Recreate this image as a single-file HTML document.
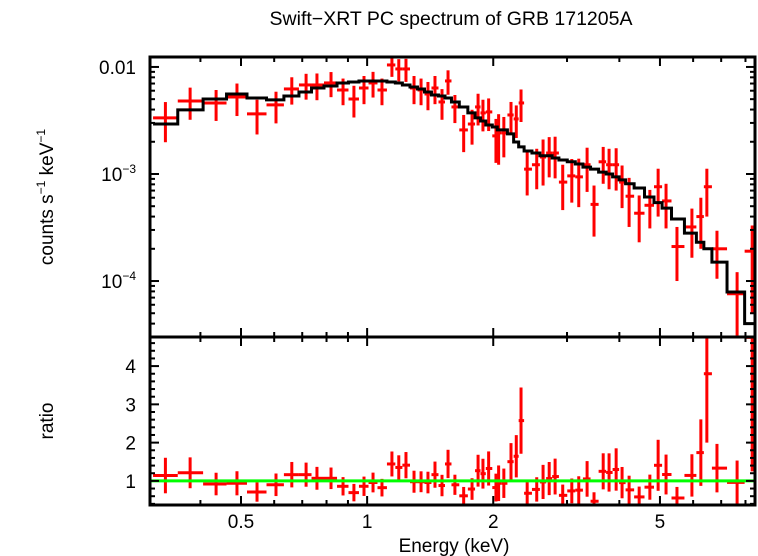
<!DOCTYPE html>
<html><head><meta charset="utf-8"><style>
html,body{margin:0;padding:0;background:#fff;}
svg{display:block;font-family:"Liberation Sans",sans-serif;}
</style></head><body>
<svg id="chart" width="758" height="556" viewBox="0 0 758 556">
<text x="451" y="25" font-size="19.5" text-anchor="middle">Swift−XRT PC spectrum of GRB 171205A</text>
<text transform="translate(53,197) rotate(-90)" font-size="19" text-anchor="middle">counts s<tspan font-size="12" dy="-8">−1</tspan><tspan dy="8"> keV</tspan><tspan font-size="12" dy="-8">−1</tspan></text>
<text transform="translate(53,421) rotate(-90)" font-size="19" text-anchor="middle">ratio</text>
<text x="454" y="552" font-size="19" text-anchor="middle">Energy (keV)</text>
<g id="layer"></g>
</svg>
<script>
// ---- data ----
const energies=[0.33,0.378,0.436,0.489,0.546,0.606,0.661,0.715,0.759,0.82,0.876,0.93,0.983,1.033,1.085,1.146,1.19,1.238,1.294,1.345,1.397,1.452,1.509,1.56,1.62,1.70,1.78,1.84,1.89,1.95,2.03,2.06,2.12,2.205,2.27,2.33,2.41,2.54,2.63,2.72,2.81,2.93,3.08,3.20,3.35,3.48,3.66,3.78,3.93,4.06,4.22,4.46,4.73,4.95,5.17,5.49,5.96,6.26,6.47,6.84,7.64,8.3];
// flux in units of 1e-3 counts/s/keV
const flux=[3.34,4.81,4.61,5.24,3.64,4.42,6.23,6.79,6.79,7.09,6.09,5.02,6.36,7.09,6.09,10.44,9.58,9.58,6.36,6.09,5.59,6.36,4.71,7.40,4.23,2.58,2.93,4.23,3.72,3.80,2.27,2.42,2.42,3.56,3.27,4.61,1.11,1.22,1.44,1.57,1.57,0.84,0.96,0.94,1.22,0.52,1.30,1.22,1.22,0.84,0.62,0.43,0.51,0.76,0.56,0.21,0.32,0.40,0.76,0.20,0.076,0.19];
const fluxErr=[1.36,1.6,1.48,1.76,1.3,1.45,1.78,1.84,1.9,1.87,1.7,1.65,1.87,1.91,1.7,2.36,2.25,2.33,1.87,1.7,1.65,1.87,1.5,1.9,1.24,0.98,1.05,1.39,1.22,1.28,1.0,1.2,0.99,1.15,1.1,1.55,0.48,0.5,0.66,0.64,0.66,0.38,0.42,0.45,0.54,0.26,0.49,0.5,0.52,0.36,0.3,0.2,0.2,0.36,0.25,0.11,0.155,0.2,0.36,0.095,0.045,0.14];
const model=[2.93,3.97,5.02,5.59,5.13,4.92,5.36,5.84,6.36,6.64,7.09,7.24,7.40,7.40,7.40,7.24,7.09,6.79,6.50,6.23,5.84,5.47,5.36,5.13,4.71,4.23,3.72,3.34,3.13,2.87,2.75,2.58,2.58,2.37,1.99,1.79,1.64,1.57,1.48,1.48,1.41,1.35,1.30,1.24,1.16,1.11,1.04,1.00,0.94,0.88,0.81,0.74,0.61,0.54,0.48,0.38,0.28,0.23,0.20,0.15,0.079,0.040];
const xTicksMajor=[0.5,1,2,5];
const xTickLabels=["0.5","1","2","5"];
const ratioTicks=[1,2,3,4];
// ---- layout ----
const L=150,R=755,T1=57,B1=337,B2=505;
const xLogMin=Math.log10(0.3032),xLogMax=Math.log10(8.43);
const yLogMin=-4.523,yLogMax=-1.907;
const rMin=0.37,rMax=4.76;
const X=e=>L+(Math.log10(e)-xLogMin)/(xLogMax-xLogMin)*(R-L);
const Y=f=>{const v=Math.max(f,1e-9)*1e-3;return B1-(Math.log10(v)-yLogMin)/(yLogMax-yLogMin)*(B1-T1);};
const YR=r=>B2-(r-rMin)/(rMax-rMin)*(B2-B1);
const NS="http://www.w3.org/2000/svg";
const layer=document.getElementById('layer');
function mk(tag,attrs,parent){const el=document.createElementNS(NS,tag);for(const k in attrs)el.setAttribute(k,attrs[k]);(parent||layer).appendChild(el);return el;}
const lg=energies.map(Math.log10);
const edges=[];
edges.push(lg[0]-(lg[1]-lg[0])/2);
for(let i=0;i<lg.length-1;i++)edges.push((lg[i]+lg[i+1])/2);
edges.push(Math.min(lg[lg.length-1]+(lg[lg.length-1]-lg[lg.length-2])/2,xLogMax));
const ex=i=>Math.min(R,Math.max(L,X(Math.pow(10,edges[i]))));
const clipY1=y=>Math.max(T1,Math.min(B1,y));
const clipY2=y=>Math.max(B1,Math.min(B2,y));
const defs=mk('defs',{});
const c1=mk('clipPath',{id:'c1'},defs);mk('rect',{x:L,y:T1,width:R-L,height:B1-T1},c1);
const c2=mk('clipPath',{id:'c2'},defs);mk('rect',{x:L,y:B1,width:R-L,height:B2-B1},c2);
const gTop=mk('g',{'clip-path':'url(#c1)'});


for(let i=0;i<energies.length;i++){
  const g=mk('g',{},gTop);
  
  
  const cx=X(energies[i]),cy=Y(flux[i]);
  mk('line',{x1:ex(i),x2:ex(i+1),y1:cy,y2:cy,stroke:'#f00','stroke-width':3},g);
  const lo=flux[i]-fluxErr[i];
  mk('line',{x1:cx,x2:cx,y1:clipY1(Y(flux[i]+fluxErr[i])),y2:lo>0?clipY1(Y(lo)):B1,stroke:'#f00','stroke-width':3},g);
}
let d='';
for(let i=0;i<model.length;i++){const y=Y(model[i]);d+=(i?'L':'M')+ex(i)+','+y+'L'+ex(i+1)+','+y;}
d+='L'+ex(model.length)+','+B1;
const mp=mk('path',{d:d,fill:'none',stroke:'#000','stroke-width':3,'clip-path':'url(#c1)'});


const gBot=mk('g',{'clip-path':'url(#c2)'});


for(let i=0;i<energies.length;i++){
  const g=mk('g',{},gBot);
  
  
  const r=flux[i]/model[i],re=fluxErr[i]/model[i];
  const cx=X(energies[i]),cy=YR(r);
  mk('line',{x1:ex(i),x2:ex(i+1),y1:cy,y2:cy,stroke:'#f00','stroke-width':3},g);
  mk('line',{x1:cx,x2:cx,y1:clipY2(YR(r+re)),y2:clipY2(YR(r-re)),stroke:'#f00','stroke-width':3},g);
}
const gl=mk('line',{x1:L,x2:R,y1:YR(1),y2:YR(1),stroke:'#0f0','stroke-width':3});


const f1=mk('rect',{x:L,y:T1,width:R-L,height:B1-T1,fill:'none',stroke:'#000','stroke-width':3});


const f2=mk('rect',{x:L,y:B1,width:R-L,height:B2-B1,fill:'none',stroke:'#000','stroke-width':3});


const ticks=mk('g',{stroke:'#000','stroke-width':2});


const minorE=[0.4,0.6,0.7,0.8,0.9,3,4,6,7,8];
for(const e of minorE){const x=X(e);
  [[T1,T1+5],[B1-5,B1],[B1,B1+5],[B2-5,B2]].forEach(p=>mk('line',{x1:x,x2:x,y1:p[0],y2:p[1]},ticks));}
xTicksMajor.forEach((e,i)=>{const x=X(e);
  [[T1,T1+9],[B1-9,B1+9],[B2-9,B2]].forEach(p=>mk('line',{x1:x,x2:x,y1:p[0],y2:p[1]},ticks));
  const t=mk('text',{x:x,y:528,'font-size':19,'text-anchor':'middle',stroke:'none',fill:'#000'});
  t.textContent=xTickLabels[i];
  
  
});
for(let dec=-5;dec<=-2;dec++){for(let m=1;m<10;m++){const v=m*Math.pow(10,dec)*1e3;const y=Y(v);
  if(y<T1-0.5||y>B1+0.5)continue;const len=m===1?9:5;
  mk('line',{x1:L,x2:L+len,y1:y,y2:y},ticks);mk('line',{x1:R-len,x2:R,y1:y,y2:y},ticks);}}
const ylab=[[10,'0.01'],[1,'10'],[0.1,'10']];
ylab.forEach((p,i)=>{const t=mk('text',{x:136,y:Y(p[0])+7,'font-size':19,'text-anchor':'end'});
  t.textContent=p[1];
  if(i>0){const s=mk('tspan',{'font-size':12,dy:-8},t);s.textContent=i===1?'−3':'−4';}
  
  });
for(let r=0.4;r<=4.75;r+=0.2){const y=YR(r);const major=Math.abs(r-Math.round(r))<0.01;const len=major?9:5;
  mk('line',{x1:L,x2:L+len,y1:y,y2:y},ticks);mk('line',{x1:R-len,x2:R,y1:y,y2:y},ticks);}
ratioTicks.forEach(r=>{const t=mk('text',{x:136,y:YR(r)+7,'font-size':19,'text-anchor':'end'});t.textContent=String(r);
  
  });
</script>
</body></html>
